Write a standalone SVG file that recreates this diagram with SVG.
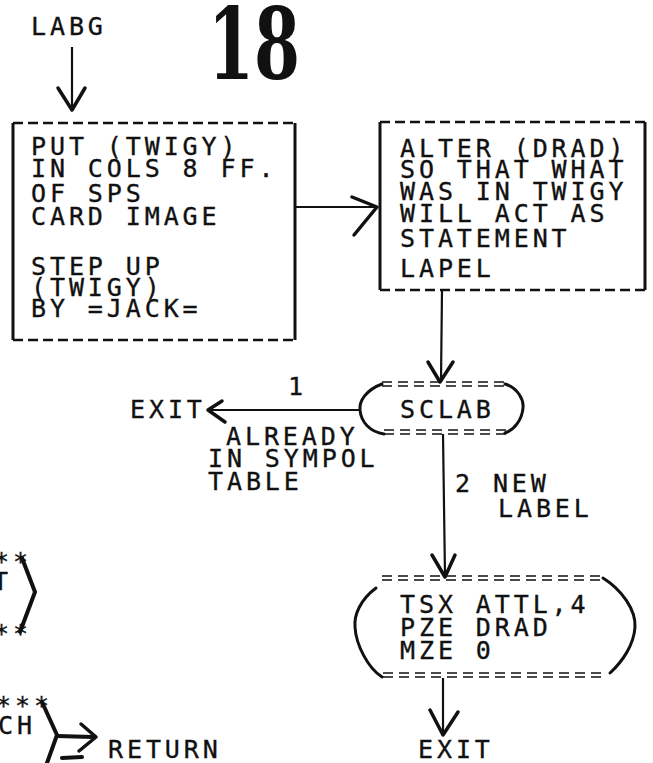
<svg xmlns="http://www.w3.org/2000/svg" width="653" height="763" viewBox="0 0 653 763">
<style>
.t{font-family:"DejaVu Sans Mono","Liberation Mono",monospace;font-size:25px;letter-spacing:3.9px;fill:#111;stroke:#111;stroke-width:0.35}
.side{stroke:#111;stroke-width:3;fill:none}
.dash{stroke:#111;stroke-width:2.5;fill:none;stroke-dasharray:10 5}
.dbl{stroke:#111;stroke-width:1.6;fill:none;stroke-dasharray:10 6}
.ln{stroke:#111;stroke-width:2.2;fill:none}
.ah{stroke:#111;stroke-width:3.5;fill:none;stroke-linecap:round;stroke-linejoin:round}
.cv{stroke:#111;stroke-width:3;fill:none;stroke-linecap:round}
.br{stroke:#111;stroke-width:4;fill:none;stroke-linecap:round;stroke-linejoin:round}
</style>
<rect width="653" height="763" fill="#fff"/>
<text x="208" y="79" font-family="DejaVu Serif,serif" font-weight="bold" font-size="100" textLength="92" lengthAdjust="spacingAndGlyphs" fill="#111">18</text>
<g id="labg"><text class="t" x="31" y="35">LABG</text></g>
<g id="box1">
<path class="dash" d="M13 123 H295 M13 340 H295"/>
<path class="side" d="M13 123 V340 M295 123 V340"/>
<text class="t"><tspan x="31" y="155">PUT (TWIGY)</tspan><tspan x="31" y="177">IN COLS 8 FF.</tspan><tspan x="31" y="202">OF SPS</tspan><tspan x="31" y="225">CARD IMAGE</tspan><tspan x="31" y="275">STEP UP</tspan><tspan x="31" y="296">(TWIGY)</tspan><tspan x="31" y="317">BY =JACK=</tspan></text>
</g>
<g id="box2">
<path class="dash" d="M380 122 H645 M380 290 H645"/>
<path class="side" d="M380 122 V290 M645 122 V290"/>
<text class="t"><tspan x="400" y="157">ALTER (DRAD)</tspan><tspan x="400" y="178">SO THAT WHAT</tspan><tspan x="400" y="200">WAS IN TWIGY</tspan><tspan x="400" y="222">WILL ACT AS</tspan><tspan x="400" y="247">STATEMENT</tspan><tspan x="400" y="277">LAPEL</tspan></text>
</g>
<g id="sclab">
<path class="dbl" d="M382 382 H507 M382 386 H507 M384 430 H507 M384 434 H507"/>
<path class="cv" d="M382 384 C366 390 359 401 360 410 C361 422 370 432 384 434"/>
<path class="cv" d="M505 384 C518 388 524 400 523 408 C522 420 514 430 505 433"/>
<text class="t" x="400" y="418">SCLAB</text>
</g>
<g id="tsx">
<path class="dbl" d="M382 576 H605 M382 580 H605 M383 673 H607 M383 677 H607"/>
<path class="cv" d="M376 588 C360 600 354 615 355 627 C356 645 368 668 382 677"/>
<path class="cv" d="M603 578 C622 590 636 610 635 627 C634 645 622 662 610 673"/>
<text class="t"><tspan x="400" y="613">TSX ATTL,4</tspan><tspan x="400" y="636">PZE DRAD</tspan><tspan x="400" y="659">MZE 0</tspan></text>
</g>
<g id="exit1"><text class="t" x="130" y="418">EXIT</text></g>
<g id="exit2"><text class="t" x="418" y="758">EXIT</text></g>
<g id="partial1">
<text class="t"><tspan x="-6" y="570">**</tspan><tspan x="-7" y="590">T</tspan><tspan x="-6" y="642">**</tspan></text>
<path class="br" d="M22 558 L35 592 L20 632"/>
</g>
<g id="partial2">
<text class="t"><tspan x="-4" y="714">***</tspan><tspan x="-2" y="734">CH</tspan></text>
<path class="br" d="M42 702 L57 735 L47 763"/>
</g>
<g id="return"><text class="t" x="108" y="758">RETURN</text></g>
<g id="connectors">
<path class="ln" d="M72 47 V110"/>
<path class="ah" d="M58 88 L72 110 L85 88"/>
<path class="ln" d="M295 207 H376"/>
<path class="ah" d="M352 197 L377 207 L354 235"/>
<path class="ln" d="M442 290 L441 381"/>
<path class="ah" d="M428 362 L440 382 L453 362"/>
<path class="ln" d="M360 410 H210"/>
<path class="ah" d="M222 401 L208 410 L225 422"/>
<text class="t" x="288" y="395">1</text>
<text class="t"><tspan x="226" y="445">ALREADY</tspan><tspan x="208" y="467">IN SYMPOL</tspan><tspan x="208" y="490">TABLE</tspan></text>
<path class="ln" d="M443 434 L445 576"/>
<path class="ah" d="M432 555 L445 577 L455 555"/>
<text class="t"><tspan x="455" y="492">2 NEW</tspan><tspan x="498" y="517">LABEL</tspan></text>
<path class="ln" d="M443 678 V734"/>
<path class="ah" d="M430 710 L443 735 L458 712"/>
<path class="br" d="M57 736 L93 737"/>
<path class="ah" d="M81 724 L96 737 L79 751"/>
<path class="br" d="M62 758 L82 757"/>
</g>
</svg>
